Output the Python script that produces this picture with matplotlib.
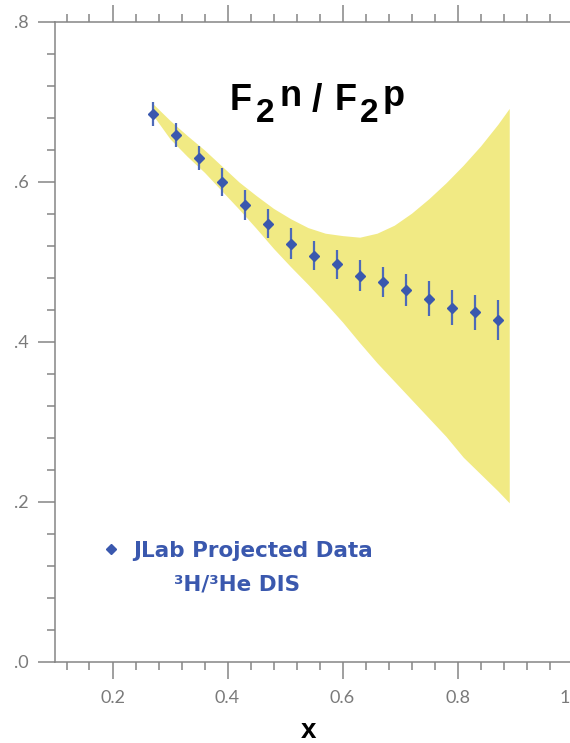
import matplotlib
matplotlib.use("Agg")
import matplotlib.pyplot as plt
from matplotlib.ticker import MultipleLocator, FuncFormatter

# projected JLab points
x_data = [0.27, 0.31, 0.35, 0.39, 0.43, 0.47, 0.51, 0.55, 0.59, 0.63, 0.67, 0.71, 0.75, 0.79, 0.83, 0.87]
ratio = [0.685, 0.659, 0.630, 0.600, 0.571, 0.548, 0.523, 0.508, 0.497, 0.483, 0.475, 0.465, 0.454, 0.443, 0.437, 0.428]
ratio_err = [0.015, 0.015, 0.015, 0.017, 0.019, 0.018, 0.019, 0.018, 0.018, 0.019, 0.019, 0.020, 0.022, 0.022, 0.022, 0.025]

# model uncertainty band
x_band = [0.27, 0.30, 0.33, 0.36, 0.39, 0.42, 0.45, 0.48, 0.51, 0.54, 0.57,
          0.60, 0.63, 0.66, 0.69, 0.72, 0.75, 0.78, 0.81, 0.84, 0.87, 0.89]
band_hi = [0.698, 0.677, 0.658, 0.640, 0.620, 0.600, 0.583, 0.567, 0.554, 0.543, 0.536,
           0.533, 0.531, 0.536, 0.546, 0.561, 0.579, 0.599, 0.621, 0.645, 0.672, 0.692]
band_lo = [0.684, 0.654, 0.632, 0.612, 0.589, 0.566, 0.542, 0.517, 0.494, 0.472, 0.449,
           0.425, 0.399, 0.374, 0.351, 0.328, 0.305, 0.282, 0.256, 0.235, 0.214, 0.199]

W, H = 570, 743
GREY = "#858585"
BLUE = "#3a58ae"


def fx(px):
    return px / W


def fy(py):
    return 1 - py / H


fig = plt.figure(figsize=(W / 100, H / 100), dpi=100)
ax = fig.add_axes([fx(55), fy(662), 575 / W, 640 / H])

ax.fill_between(x_band, band_lo, band_hi, color="#f1ea84", linewidth=0, zorder=1)
ax.errorbar(x_data, ratio, yerr=ratio_err, fmt="none", ecolor="#4d6ab8", elinewidth=1.6, zorder=2)
ax.plot(x_data, ratio, "D", color=BLUE, markersize=5.5, zorder=3)

ax.set_xlim(0.1, 1.1)
ax.set_ylim(0.0, 0.8)

ax.xaxis.set_major_locator(MultipleLocator(0.2))
ax.xaxis.set_minor_locator(MultipleLocator(0.04))
ax.yaxis.set_major_locator(MultipleLocator(0.2))
ax.yaxis.set_minor_locator(MultipleLocator(0.04))
ax.xaxis.set_major_formatter(FuncFormatter(lambda v, p: f"{v:.1f}"))
ax.yaxis.set_major_formatter(FuncFormatter(lambda v, p: f"{v:.1f}".lstrip("0")))

for side in ("left", "bottom", "top"):
    ax.spines[side].set_color(GREY)
    ax.spines[side].set_linewidth(1.1)
ax.spines["right"].set_visible(False)

ax.tick_params(which="both", direction="out", top=True, right=False, color=GREY, width=1.1,
               labelcolor="#7a7a7a", labelsize=13)
ax.tick_params(which="major", length=12)
ax.tick_params(which="minor", length=6)
ax.tick_params(axis="x", which="major", pad=8)
ax.tick_params(axis="y", which="major", pad=7)
for lab in ax.get_xticklabels() + ax.get_yticklabels():
    lab.set_family(["Lato", "DejaVu Sans"])

ax.set_xlabel("x", fontsize=20, fontweight="bold", family="Liberation Sans", color="black")
ax.xaxis.set_label_coords((308 - 55) / 575, -0.087)

# title F2n / F2p built from pieces so the sub/superscripts stay large
title_kw = dict(fontweight="bold", family="Liberation Sans", color="black",
                ha="left", va="baseline")
fig.text(fx(230), fy(110), "F", fontsize=26, **title_kw)
fig.text(fx(256), fy(122), "2", fontsize=24, **title_kw)
fig.text(fx(279), fy(106), "n", fontsize=26, **title_kw)
fig.text(fx(312), fy(111), "/", fontsize=27, **title_kw)
fig.text(fx(335), fy(110), "F", fontsize=26, **title_kw)
fig.text(fx(360), fy(122), "2", fontsize=24, **title_kw)
fig.text(fx(383), fy(106), "p", fontsize=26, **title_kw)

# legend
leg_kw = dict(fontsize=15.5, fontweight="bold", family="DejaVu Sans", color=BLUE, ha="left", va="baseline")
ax.plot([0.1 + (111 - 55) / 575], [(662 - 549) / 800], "D", color=BLUE, markersize=5)
fig.text(fx(133), fy(557), "JLab Projected Data", **leg_kw)
fig.text(fx(174), fy(590), "³H/³He DIS", **leg_kw)

fig.savefig("out.png", dpi=100)
